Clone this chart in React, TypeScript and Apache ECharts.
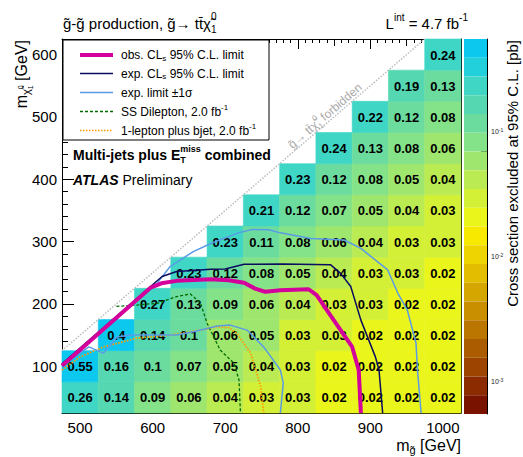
import React, { useEffect, useRef } from "react";
import * as echarts from "echarts";

const FONT = "'Liberation Sans', Arial, Helvetica, sans-serif";

// ---------- data ----------
const gluinoMasses = [500, 550, 600, 650, 700, 750, 800, 850, 900, 950, 1000];
const neutralinoMasses = [50, 100, 150, 200, 250, 300, 350, 400, 450, 500, 550, 600];
const N = null;
// excluded cross section [pb] per neutralino-mass row, one value per gluino mass
const xsecAt50 = [0.26, 0.14, 0.09, 0.06, 0.04, 0.03, 0.03, 0.02, 0.02, 0.02, 0.02];
const xsecAt100 = [0.55, 0.16, 0.1, 0.07, 0.05, 0.04, 0.03, 0.02, 0.02, 0.02, 0.02];
const xsecAt150 = [N, 0.4, 0.14, 0.1, 0.06, 0.05, 0.03, 0.03, 0.02, 0.02, 0.02];
const xsecAt200 = [N, N, 0.27, 0.13, 0.09, 0.06, 0.04, 0.03, 0.03, 0.02, 0.02];
const xsecAt250 = [N, N, N, 0.23, 0.12, 0.08, 0.05, 0.04, 0.03, 0.03, 0.02];
const xsecAt300 = [N, N, N, N, 0.23, 0.11, 0.08, 0.06, 0.04, 0.03, 0.03];
const xsecAt350 = [N, N, N, N, N, 0.21, 0.12, 0.07, 0.05, 0.04, 0.03];
const xsecAt400 = [N, N, N, N, N, N, 0.23, 0.12, 0.08, 0.05, 0.04];
const xsecAt450 = [N, N, N, N, N, N, N, 0.24, 0.13, 0.08, 0.06];
const xsecAt500 = [N, N, N, N, N, N, N, N, 0.22, 0.12, 0.08];
const xsecAt550 = [N, N, N, N, N, N, N, N, N, 0.19, 0.13];
const xsecAt600 = [N, N, N, N, N, N, N, N, N, N, 0.24];
const xsecRows = [xsecAt50, xsecAt100, xsecAt150, xsecAt200, xsecAt250, xsecAt300,
  xsecAt350, xsecAt400, xsecAt450, xsecAt500, xsecAt550, xsecAt600];

// contours [m_gluino, m_neutralino] in GeV
const obsLimit = [[475, 101], [597, 226], [612, 233], [633, 237], [680, 239.5], [705, 238], [726, 234],
  [742, 224], [755, 219.5], [776, 222], [815, 223.5], [826, 214], [846, 180], [875, 131], [884, 94], [887, 25]];
const expLimit = [[475, 104], [603, 234], [613, 244], [633, 252], [680, 255.5], [700, 256], [726, 263.5],
  [780, 264], [845, 263], [859, 249], [873, 228], [887, 174], [907, 115], [912, 94], [917, 25]];
const expUp = [[475, 103], [606, 233], [624, 260], [656, 284], [680, 297], [718, 314], [737, 319.5],
  [760, 319], [776, 314], [818, 305], [864, 302.5], [887, 289], [924, 254.5], [938, 217], [951, 190],
  [963, 137], [965, 94], [970, 25]];
const expDown = [[475, 101], [512, 131], [532, 121], [551, 147], [570, 150], [592, 150], [633, 150],
  [656, 155.5], [689, 164.5], [707, 166], [730, 158], [753, 131], [776, 94], [780, 73], [776, 25]];
const ssDilepton = [[550, 196], [576, 198], [606, 201], [633, 211.7], [652, 216], [666, 201], [675, 169],
  [693, 126], [712, 105], [719, 78], [721, 25]];
const oneLepton = [[475, 94], [500, 115], [532, 131], [578, 145], [624, 150], [666, 158], [689, 163.5],
  [705, 162], [716, 153], [735, 121], [749, 67], [753, 25]];
const forbiddenEdge = [[475, 125], [975, 625]];

// axis ticks
const xMajorTicks = [500, 600, 700, 800, 900, 1000];
const xMidTicks = [550, 650, 750, 850, 950];
const yMajorTicks = [100, 200, 300, 400, 500, 600];
const cbDecades = [-3, -2, -1];
const colorScaleMin = 0.00055;
const colorScaleMax = 0.55;

const X_MIN = 475, X_MAX = 1025, Y_MIN = 25, Y_MAX = 625, BIN = 50;

const palette = [
  "#7a1200", "#8c2a00", "#9c4400", "#ab5c00", "#bb7600", "#c98f00", "#d6a600", "#e2bd00", "#eed400", "#f7ea00",
  "#eaf51c", "#d4f036", "#bbeb52", "#9fe66e", "#84e288", "#6cdc9e", "#55d8b2", "#3fd6c6", "#22d0dc", "#0cc8ef",
];

// ---------- helpers ----------
let ctx: CanvasRenderingContext2D | null = null;
function textWidth(t: string, font: string) {
  if (!ctx) ctx = document.createElement("canvas").getContext("2d");
  ctx!.font = font;
  return ctx!.measureText(t).width;
}
type Run = { t: string; size: number; dy?: number; weight?: string; style?: string; stack?: boolean };
function textGroup(parts: Run[], x: number, y: number, color: string, align = "left", rotation = 0) {
  let cx = 0, pending = 0;
  const children: any[] = [];
  for (const p of parts) {
    const font = `${p.style || "normal"} ${p.weight || "normal"} ${p.size}px ${FONT}`;
    const w = textWidth(p.t, font);
    children.push({
      type: "text", x: cx, y: p.dy || 0, z: 100,
      style: {
        text: p.t, fill: color, fontSize: p.size, fontFamily: FONT, fontWeight: p.weight || "normal",
        fontStyle: p.style || "normal", align: "left", verticalAlign: "middle",
      },
    });
    if (p.stack) pending = w; else { cx += Math.max(w, pending); pending = 0; }
  }
  const shift = align === "right" ? -cx : align === "center" ? -cx / 2 : 0;
  children.forEach((c) => (c.x += shift));
  return { type: "group", x, y, rotation, z: 100, children };
}

function buildOption() {
  const cells: number[][] = [];
  xsecRows.forEach((row, j) => row.forEach((v, i) => {
    if (v != null) cells.push([gluinoMasses[i], neutralinoMasses[j], Math.log10(v), v]);
  }));
  const xMinor: number[] = [];
  for (let v = 480; v <= 1020; v += 10) if (v % 50 !== 0) xMinor.push(v);
  const yMinor: number[] = [];
  for (let v = 40; v <= 620; v += 20) if (v % 100 !== 0) yMinor.push(v);
  const ZMIN = Math.log10(colorScaleMin), ZMAX = Math.log10(colorScaleMax);
  const cbMinor: number[] = [];
  for (const d of [-4, ...cbDecades]) for (let k = 2; k <= 9; k++) {
    const v = d + Math.log10(k);
    if (v > ZMIN && v < ZMAX) cbMinor.push(v);
  }
  const step = (ZMAX - ZMIN) / palette.length;
  const pieces = palette.map((c, i) => ({
    min: i === 0 ? -10 : ZMIN + i * step,
    max: i === palette.length - 1 ? 10 : ZMIN + (i + 1) * step,
    color: c,
  }));

  const black = { color: "#000", width: 1 };
  const ax = (extra: any) => ({
    type: "value", splitLine: { show: false }, axisLine: { show: false, onZero: false, lineStyle: black },
    axisLabel: { show: false }, ...extra,
  });
  const tick = (len: number, vals: number[]) => ({ show: true, inside: true, length: len, customValues: vals, lineStyle: black });
  const xLab = { show: true, customValues: xMajorTicks, color: "#000", fontSize: 15, fontFamily: FONT, margin: 7, formatter: (v: number) => String(v) };
  const yLab = { show: true, customValues: yMajorTicks, color: "#000", fontSize: 15, fontFamily: FONT, margin: 5, formatter: (v: number) => String(v) };

  const xAxis = [
    ax({ gridIndex: 0, position: "bottom", min: X_MIN, max: X_MAX, axisLine: { show: true, onZero: false, lineStyle: black }, axisTick: tick(10, xMajorTicks), axisLabel: xLab }),
    ax({ gridIndex: 0, position: "bottom", min: X_MIN, max: X_MAX, axisTick: tick(7, xMidTicks) }),
    ax({ gridIndex: 0, position: "bottom", min: X_MIN, max: X_MAX, axisTick: tick(4, xMinor) }),
    ax({ gridIndex: 0, position: "top", min: X_MIN, max: X_MAX, axisLine: { show: true, onZero: false, lineStyle: black }, axisTick: tick(10, xMajorTicks) }),
    ax({ gridIndex: 0, position: "top", min: X_MIN, max: X_MAX, axisTick: tick(7, xMidTicks) }),
    ax({ gridIndex: 0, position: "top", min: X_MIN, max: X_MAX, axisTick: tick(4, xMinor) }),
    { type: "value", gridIndex: 1, min: 0, max: 1, show: false },
  ];
  const yAxis = [
    ax({ gridIndex: 0, position: "left", min: Y_MIN, max: Y_MAX, axisLine: { show: true, onZero: false, lineStyle: black }, axisTick: tick(12, yMajorTicks), axisLabel: yLab }),
    ax({ gridIndex: 0, position: "left", min: Y_MIN, max: Y_MAX, axisTick: tick(6, yMinor) }),
    ax({ gridIndex: 0, position: "right", min: Y_MIN, max: Y_MAX, axisLine: { show: true, onZero: false, lineStyle: black }, axisTick: tick(12, yMajorTicks) }),
    ax({ gridIndex: 0, position: "right", min: Y_MIN, max: Y_MAX, axisTick: tick(6, yMinor) }),
    ax({
      gridIndex: 1, position: "right", min: ZMIN, max: ZMAX,
      axisLine: { show: true, onZero: false, lineStyle: black }, axisTick: tick(11, cbDecades),
      axisLabel: {
        show: true, customValues: cbDecades, margin: 4,
        formatter: (v: number) => `{b|10}{e|${Math.round(v)}}`,
        rich: {
          b: { fontSize: 7, fontFamily: FONT, color: "#222", lineHeight: 9 },
          e: { fontSize: 5, fontFamily: FONT, color: "#222", verticalAlign: "top", lineHeight: 9 },
        },
      },
    }),
    ax({ gridIndex: 1, position: "right", min: ZMIN, max: ZMAX, axisTick: tick(6, cbMinor) }),
  ];

  const line = (name: string, data: number[][], color: string, width: number, type: any, z: number) => ({
    type: "line", name, data, xAxisIndex: 0, yAxisIndex: 0, showSymbol: false, symbol: "none", silent: true,
    lineStyle: { color, width, type }, z, animation: false,
  });

  const C_OBS = "#d4009c", C_EXP = "#0b0b60", C_BAND = "#5a9ae6", C_SS = "#006b00", C_1L = "#ff9c00";

  const legendRows = [55, 73.5, 92.5, 111.5, 130.5];
  const graphic: any[] = [
    { type: "rect", z: 99, shape: { x: 63, y: 40, width: 206, height: 100 }, style: { fill: "#fff", stroke: "#000", lineWidth: 1 } },
    { type: "line", z: 100, shape: { x1: 80, y1: legendRows[0], x2: 113, y2: legendRows[0] }, style: { stroke: C_OBS, lineWidth: 4 } },
    { type: "line", z: 100, shape: { x1: 80, y1: legendRows[1], x2: 113, y2: legendRows[1] }, style: { stroke: C_EXP, lineWidth: 1.5 } },
    { type: "line", z: 100, shape: { x1: 80, y1: legendRows[2], x2: 113, y2: legendRows[2] }, style: { stroke: C_BAND, lineWidth: 1.5 } },
    { type: "line", z: 100, shape: { x1: 80, y1: legendRows[3], x2: 113, y2: legendRows[3] }, style: { stroke: C_SS, lineWidth: 1.3, lineDash: [3, 2] } },
    { type: "line", z: 100, shape: { x1: 80, y1: legendRows[4], x2: 113, y2: legendRows[4] }, style: { stroke: C_1L, lineWidth: 1.5, lineDash: [1.5, 1.5] } },
    textGroup([{ t: "obs. CL", size: 12 }, { t: "s", size: 8, dy: 3 }, { t: " 95% C.L. limit", size: 12 }], 121, legendRows[0], "#000"),
    textGroup([{ t: "exp. CL", size: 12 }, { t: "s", size: 8, dy: 3 }, { t: " 95% C.L. limit", size: 12 }], 121, legendRows[1], "#000"),
    textGroup([{ t: "exp. limit \u00b11\u03c3", size: 12 }], 121, legendRows[2], "#000"),
    textGroup([{ t: "SS Dilepton, 2.0 fb", size: 12 }, { t: "-1", size: 8, dy: -4 }], 121, legendRows[3], "#000"),
    textGroup([{ t: "1-lepton plus bjet, 2.0 fb", size: 12 }, { t: "-1", size: 8, dy: -4 }], 121, legendRows[4], "#000"),
    textGroup([{ t: "Multi-jets plus E", size: 14, weight: "bold" }, { t: "miss", size: 9, dy: -6, weight: "bold", stack: true },
      { t: "T", size: 9, dy: 5, weight: "bold" }, { t: " combined", size: 14, weight: "bold" }], 73, 155, "#000"),
    textGroup([{ t: "ATLAS", size: 14, weight: "bold", style: "italic" }, { t: " Preliminary", size: 14 }], 73, 180, "#000"),
    textGroup([{ t: "g\u0303-g\u0303 production, g\u0303\u2192 tt\u0304\u03c7\u0303", size: 15 },
      { t: "0", size: 10, dy: -7, stack: true }, { t: "1", size: 10, dy: 6 }], 63, 23, "#000"),
    textGroup([{ t: "L", size: 15 }, { t: "int", size: 10, dy: -6 }, { t: " = 4.7 fb", size: 15 }, { t: "-1", size: 10, dy: -6 }],
      468, 23, "#000", "right"),
    textGroup([{ t: "m", size: 16 }, { t: "g\u0303", size: 11, dy: 5 }, { t: " [GeV]", size: 16 }], 461, 445, "#000", "right"),
    textGroup([{ t: "m", size: 16 }, { t: "\u03c7\u0303", size: 11, dy: 5 }, { t: "0", size: 7, dy: -1, stack: true },
      { t: "1", size: 7, dy: 9 }, { t: " [GeV]", size: 16 }], 21, 40, "#000", "right", Math.PI / 2),
    textGroup([{ t: "Cross section excluded at 95% C.L. [pb]", size: 15 }], 512, 40, "#000", "right", Math.PI / 2),
    textGroup([{ t: "g\u0303\u2192 tt\u0304\u03c7\u0303", size: 12 }, { t: "0", size: 8, dy: -5, stack: true }, { t: "1", size: 8, dy: 5 },
      { t: " forbidden", size: 12 }], 325, 116, "#aaaaaa", "center", Math.atan((374 / 600) / (398 / 550))),
  ];

  return {
    animation: false,
    backgroundColor: "#fff",
    textStyle: { fontFamily: FONT },
    grid: [
      { left: 62, top: 39, width: 399, height: 374, containLabel: false, outerBoundsMode: "none" },
      { left: 464, top: 39, width: 23, height: 375, containLabel: false, outerBoundsMode: "none" },
    ],
    xAxis, yAxis,
    visualMap: {
      type: "piecewise", seriesIndex: 0, dimension: 2, pieces, orient: "vertical",
      left: 464, top: 39, itemWidth: 23, itemHeight: 375 / palette.length, itemGap: 0, itemSymbol: "rect",
      showLabel: false, selectedMode: false, padding: 0, hoverLink: false,
    },
    series: [
      {
        type: "custom", xAxisIndex: 0, yAxisIndex: 0, data: cells, z: 2, silent: true,
        renderItem: (params: any, api: any) => {
          const x = api.value(0), y = api.value(1);
          const p0 = api.coord([x - BIN / 2, y + BIN / 2]);
          const p1 = api.coord([x + BIN / 2, y - BIN / 2]);
          const color = api.visual("color");
          return {
            type: "group",
            children: [
              { type: "rect", shape: { x: p0[0], y: p0[1], width: p1[0] - p0[0], height: p1[1] - p0[1] },
                style: { fill: color, stroke: color, lineWidth: 0.6 } },
              { type: "text", style: { text: String(api.value(3)), x: (p0[0] + p1[0]) / 2, y: (p0[1] + p1[1]) / 2 + 0.5,
                align: "center", verticalAlign: "middle", fontSize: 13, fontWeight: "bold", fontFamily: FONT, fill: "#000" } },
            ],
          };
        },
      },
      line("forbidden", forbiddenEdge, "#bdbdbd", 1.5, [1.5, 1.5], 3),
      line("SS Dilepton, 2.0 fb-1", ssDilepton, C_SS, 1.3, [3, 2], 4),
      line("1-lepton plus bjet, 2.0 fb-1", oneLepton, C_1L, 1.8, [1.5, 1.5], 4),
      line("exp. limit \u00b11\u03c3", expUp, C_BAND, 1.5, "solid", 5),
      line("exp. limit \u00b11\u03c3", expDown, C_BAND, 1.5, "solid", 5),
      line("exp. CLs 95% C.L. limit", expLimit, C_EXP, 1.5, "solid", 6),
      line("obs. CLs 95% C.L. limit", obsLimit, C_OBS, 4, "solid", 7),
    ],
    graphic,
  };
}

export default function App() {
  const ref = useRef<HTMLDivElement>(null);
  useEffect(() => {
    const chart = echarts.init(ref.current!, null, { renderer: "svg" });
    chart.setOption(buildOption() as any);
    return () => chart.dispose();
  }, []);
  return <div ref={ref} style={{ position: "absolute", left: 0, top: 0, width: 523, height: 457 }} />;
}
